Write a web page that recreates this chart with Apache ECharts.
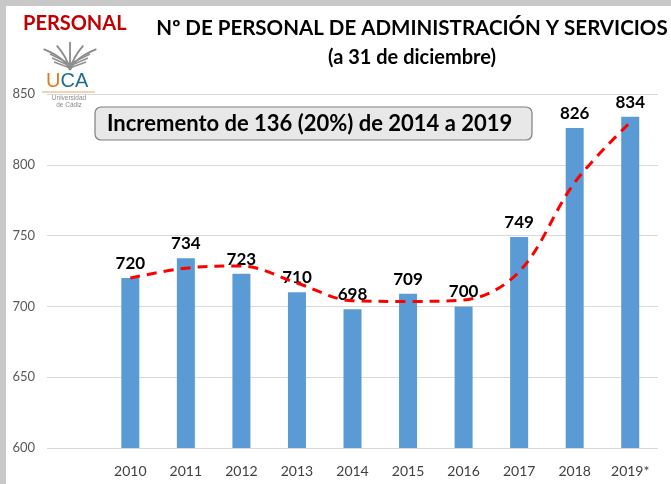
<!DOCTYPE html>
<html><head><meta charset="utf-8">
<script src="https://cdn.jsdelivr.net/npm/echarts@6/dist/echarts.min.js"></script>
<style>html,body{margin:0;padding:0;background:#fff}#c{width:671px;height:484px}</style>
</head><body><div id="c"></div>
<script>
const categories = ['', '2010', '2011', '2012', '2013', '2014', '2015', '2016', '2017', '2018', '2019*'];
const personnel = [null, 720, 734, 723, 710, 698, 709, 700, 749, 826, 834];
const trend = [null, 720, 727, 728.5, 716.5, 704, 703.5, 704.5, 724.5, 787.5, 830];
const yTicks = { min: 600, max: 850, interval: 50 };

const chart = echarts.init(document.getElementById('c'), null, { renderer: 'canvas' });
const F = 'Lato, "Open Sans", sans-serif';

// logo icon strokes (decorative)
const iconStrokes = [];
for (let i = 0; i < 5; i++) {
  const dx = (i - 2) * 6;
  iconStrokes.push({ type: 'bezierCurve', shape: { x1: 70, y1: 70, x2: 70 + dx * 2.2, y2: 42 + Math.abs(dx) * 0.6, cpx1: 70 + dx * 0.4, cpy1: 58 }, style: { stroke: '#8a8a8a', lineWidth: 1.8, fill: null } });
}
for (let k = 0; k < 3; k++) {
  iconStrokes.push({ type: 'polyline', shape: { points: [[50 + k * 2, 54 + k * 4], [70, 64 + k * 2], [90 - k * 2, 54 + k * 4]] }, style: { stroke: '#8f8f8f', lineWidth: 1.5, fill: null } });
}

chart.setOption({
  animation: false,
  backgroundColor: '#ffffff',
  grid: { left: 47, right: 13, top: 94, bottom: 36, containLabel: false },
  xAxis: {
    type: 'category', data: categories,
    axisLine: { show: false }, axisTick: { show: false },
    axisLabel: { color: '#404040', fontSize: 14, fontFamily: F, margin: 16 }
  },
  yAxis: {
    type: 'value', min: yTicks.min, max: yTicks.max, interval: yTicks.interval,
    axisLine: { show: false }, axisTick: { show: false },
    axisLabel: { color: '#595959', fontSize: 13, fontFamily: F, margin: 12 },
    splitLine: { lineStyle: { color: '#d9d9d9', width: 1 } }
  },
  series: [
    {
      type: 'bar', data: personnel, barWidth: 18,
      itemStyle: { color: '#5B9BD5' },
      label: { show: true, position: 'top', distance: 6, color: '#000', fontWeight: 'bold', fontSize: 17, fontFamily: F },
      z: 2
    },
    {
      type: 'line', data: trend, smooth: 0.35, symbol: 'none', connectNulls: false,
      lineStyle: { color: '#ff0000', width: 3, type: [10, 7] },
      z: 3
    }
  ],
  graphic: [
    { type: 'rect', shape: { x: 0, y: 0, width: 671, height: 6 }, style: { fill: '#c8c8c8' }, z: 10 },
    { type: 'rect', shape: { x: 0, y: 0, width: 6, height: 484 }, style: { fill: '#c8c8c8' }, z: 10 },
    { type: 'text', x: 23, y: 14, style: { text: 'PERSONAL', fill: '#C00000', font: 'bold 20px ' + F }, z: 10 },
    { type: 'text', x: 412, y: 18, style: { text: 'Nº DE PERSONAL DE ADMINISTRACIÓN Y SERVICIOS', fill: '#000', font: 'bold 20.5px ' + F, textAlign: 'center' }, z: 10 },
    { type: 'text', x: 412, y: 48, style: { text: '(a 31 de diciembre)', fill: '#000', font: 'bold 20px ' + F, textAlign: 'center' }, z: 10 },
    { type: 'group', children: iconStrokes, z: 10 },
    { type: 'text', x: 46, y: 71, style: { rich: { u: { fill: '#E07B1A', font: '20px "Liberation Sans", sans-serif' }, c: { fill: '#1F6E8C', font: '20px "Liberation Sans", sans-serif' } }, text: '{u|U}{c|CA}' }, z: 10 },
    { type: 'line', shape: { x1: 42, y1: 92, x2: 95, y2: 92 }, style: { stroke: '#E9A86B', lineWidth: 1 }, z: 10 },
    { type: 'text', x: 69, y: 94, style: { text: 'Universidad\nde Cádiz', fill: '#8a8a8a', font: '6.5px "Liberation Sans", sans-serif', textAlign: 'center', lineHeight: 7.5 }, z: 10 },
    { type: 'rect', shape: { x: 95, y: 107, width: 437, height: 33, r: 6 }, style: { fill: '#e8e8e8', stroke: '#7f7f7f', lineWidth: 1.2 }, z: 10 },
    { type: 'text', x: 107, y: 124, style: { text: 'Incremento de 136 (20%) de 2014 a 2019', fill: '#000', font: 'bold 22px ' + F, textVerticalAlign: 'middle' }, z: 11 }
  ]
});
</script></body></html>
